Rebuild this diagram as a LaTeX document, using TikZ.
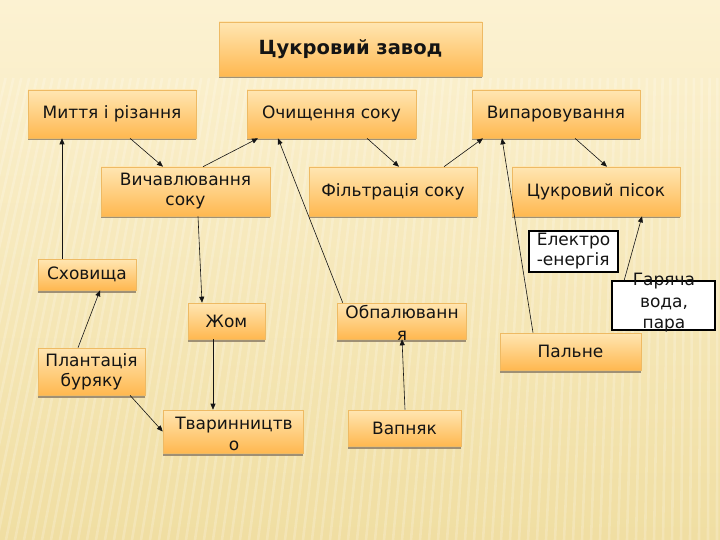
\documentclass[tikz,border=0pt]{standalone}
\usepackage{fontspec}
\setmainfont{DejaVu Sans}
\usetikzlibrary{arrows.meta,shadows}
\definecolor{bgtop}{RGB}{252,242,210}
\definecolor{bgbot}{RGB}{240,222,162}
\definecolor{boxtop}{RGB}{255,230,178}
\definecolor{boxbot}{RGB}{255,184,80}
\definecolor{boxline}{RGB}{238,186,100}
\definecolor{shade}{RGB}{150,135,110}
\definecolor{ink}{RGB}{20,20,20}
\tikzset{
  fbox/.style={rectangle,draw=boxline,line width=0.6pt,top color=boxtop,bottom color=boxbot,
    drop shadow={shadow xshift=0pt,shadow yshift=-2.5pt,fill=shade,opacity=0.9},
    text=ink,font=\fontsize{17}{20}\selectfont,align=center,inner sep=2pt},
  wbox/.style={rectangle,draw=black,line width=1.6pt,fill=white,
    text=ink,font=\fontsize{17}{20}\selectfont,inner sep=2pt},
  ftext/.style={text=ink,font=\fontsize{17}{21.5}\selectfont,align=center,inner sep=0pt},
  farr/.style={ink,line width=0.6pt,-{Triangle[length=6pt,width=5pt]}},
  stripe/.style={white,line width=2.6pt,opacity=0.2},
}
\begin{document}
\begin{tikzpicture}[x=1pt,y=-1pt]
  \useasboundingbox (0,0) rectangle (720,540);
  \shade[top color=bgtop,bottom color=bgbot] (0,0) rectangle (720,540);
  \foreach \i in {-120,-111,...,720} {
    \pgfmathsetmacro{\tx}{\i+110*(1-(\i+120)/840)}
    \draw[stripe] (\i,540) -- (\tx,78);}

  % title and top row
  \node[fbox,minimum width=263pt,minimum height=54pt,font=\fontsize{19.5}{22}\selectfont\bfseries]
    (zavod) at (350.5,49) {Цукровий завод};
  \node[fbox,minimum width=168pt,minimum height=48pt] (myttya) at (112,114) {Миття і різання};
  \node[fbox,minimum width=169pt,minimum height=48pt] (ochysch) at (331.5,114) {Очищення соку};
  \node[fbox,minimum width=168pt,minimum height=48pt] (vyparov) at (556,114) {Випаровування};
  % second row
  \node[fbox,minimum width=169pt,minimum height=49pt] (vychavl) at (185.5,191.5) {Вичавлювання\\соку};
  \node[fbox,minimum width=168pt,minimum height=49pt] (filtr) at (393,191.5) {Фільтрація соку};
  \node[fbox,minimum width=168pt,minimum height=49pt] (pisok) at (596,191.5) {Цукровий пісок};
  % lower part
  \node[fbox,minimum width=98pt,minimum height=31pt] (skhov) at (87,274.5) {Сховища};
  \node[fbox,minimum width=77pt,minimum height=36pt] (zhom) at (226.5,321) {Жом};
  \node[fbox,minimum width=129pt,minimum height=36pt] (obpal) at (401.5,321) {};
  \node[ftext] (obpal-t) at (402,323) {Обпалюванн\\я};
  \node[fbox,minimum width=107pt,minimum height=47pt] (plant) at (91.5,371.5) {Плантація\\буряку};
  \node[fbox,minimum width=140pt,minimum height=43pt] (tvar) at (233,431.5) {};
  \node[ftext] (tvar-t) at (234,434) {Тваринництв\\о};
  \node[fbox,minimum width=113pt,minimum height=36pt] (vapn) at (404.5,428) {Вапняк};
  \node[fbox,minimum width=141pt,minimum height=37pt] (palne) at (570.5,351.5) {Пальне};
  \node[wbox,minimum width=89pt,minimum height=41pt,align=left] (elektro) at (573.5,251.5) {Електро\\-енергія};
  \node[wbox,minimum width=103pt,minimum height=49pt] (voda) at (663.5,305.5) {};
  \node[ftext] (voda-t) at (664,303) {Гаряча\\вода,\\пара};

  % connectors
  \draw[farr] ([xshift=18pt]myttya.south) -- ([xshift=-22.5pt]vychavl.north);
  \draw[farr] ([xshift=17.5pt]vychavl.north) -- ([xshift=-73.5pt]ochysch.south);
  \draw[farr] ([xshift=12.5pt]vychavl.south) -- ([xshift=-24.5pt]zhom.north);
  \draw[farr] ([xshift=-25pt]skhov.north) -- ([xshift=-50pt]myttya.south);
  \draw[farr] ([xshift=-13.5pt]plant.north) -- ([xshift=13pt]skhov.south);
  \draw[farr] ([xshift=38.5pt]plant.south) -- (tvar.west);
  \draw[farr] ([xshift=-13.5pt]zhom.south) -- ([xshift=-20pt]tvar.north);
  \draw[farr] ([xshift=0.5pt]vapn.north) -- ([xshift=0.5pt]obpal.south);
  \draw[farr] ([xshift=6pt]obpal.north west) -- ([xshift=-53.5pt]ochysch.south);
  \draw[farr] ([xshift=35.5pt]ochysch.south) -- ([xshift=6pt]filtr.north);
  \draw[farr] ([xshift=51pt]filtr.north) -- ([xshift=-73pt]vyparov.south);
  \draw[farr] ([xshift=19pt]vyparov.south) -- ([xshift=11pt]pisok.north);
  \draw[farr] ([xshift=-37.5pt]palne.north) -- ([xshift=-54pt]vyparov.south);
  \draw[farr] ([xshift=13pt]voda.north west) -- ([xshift=46pt]pisok.south);
\end{tikzpicture}
\end{document}
